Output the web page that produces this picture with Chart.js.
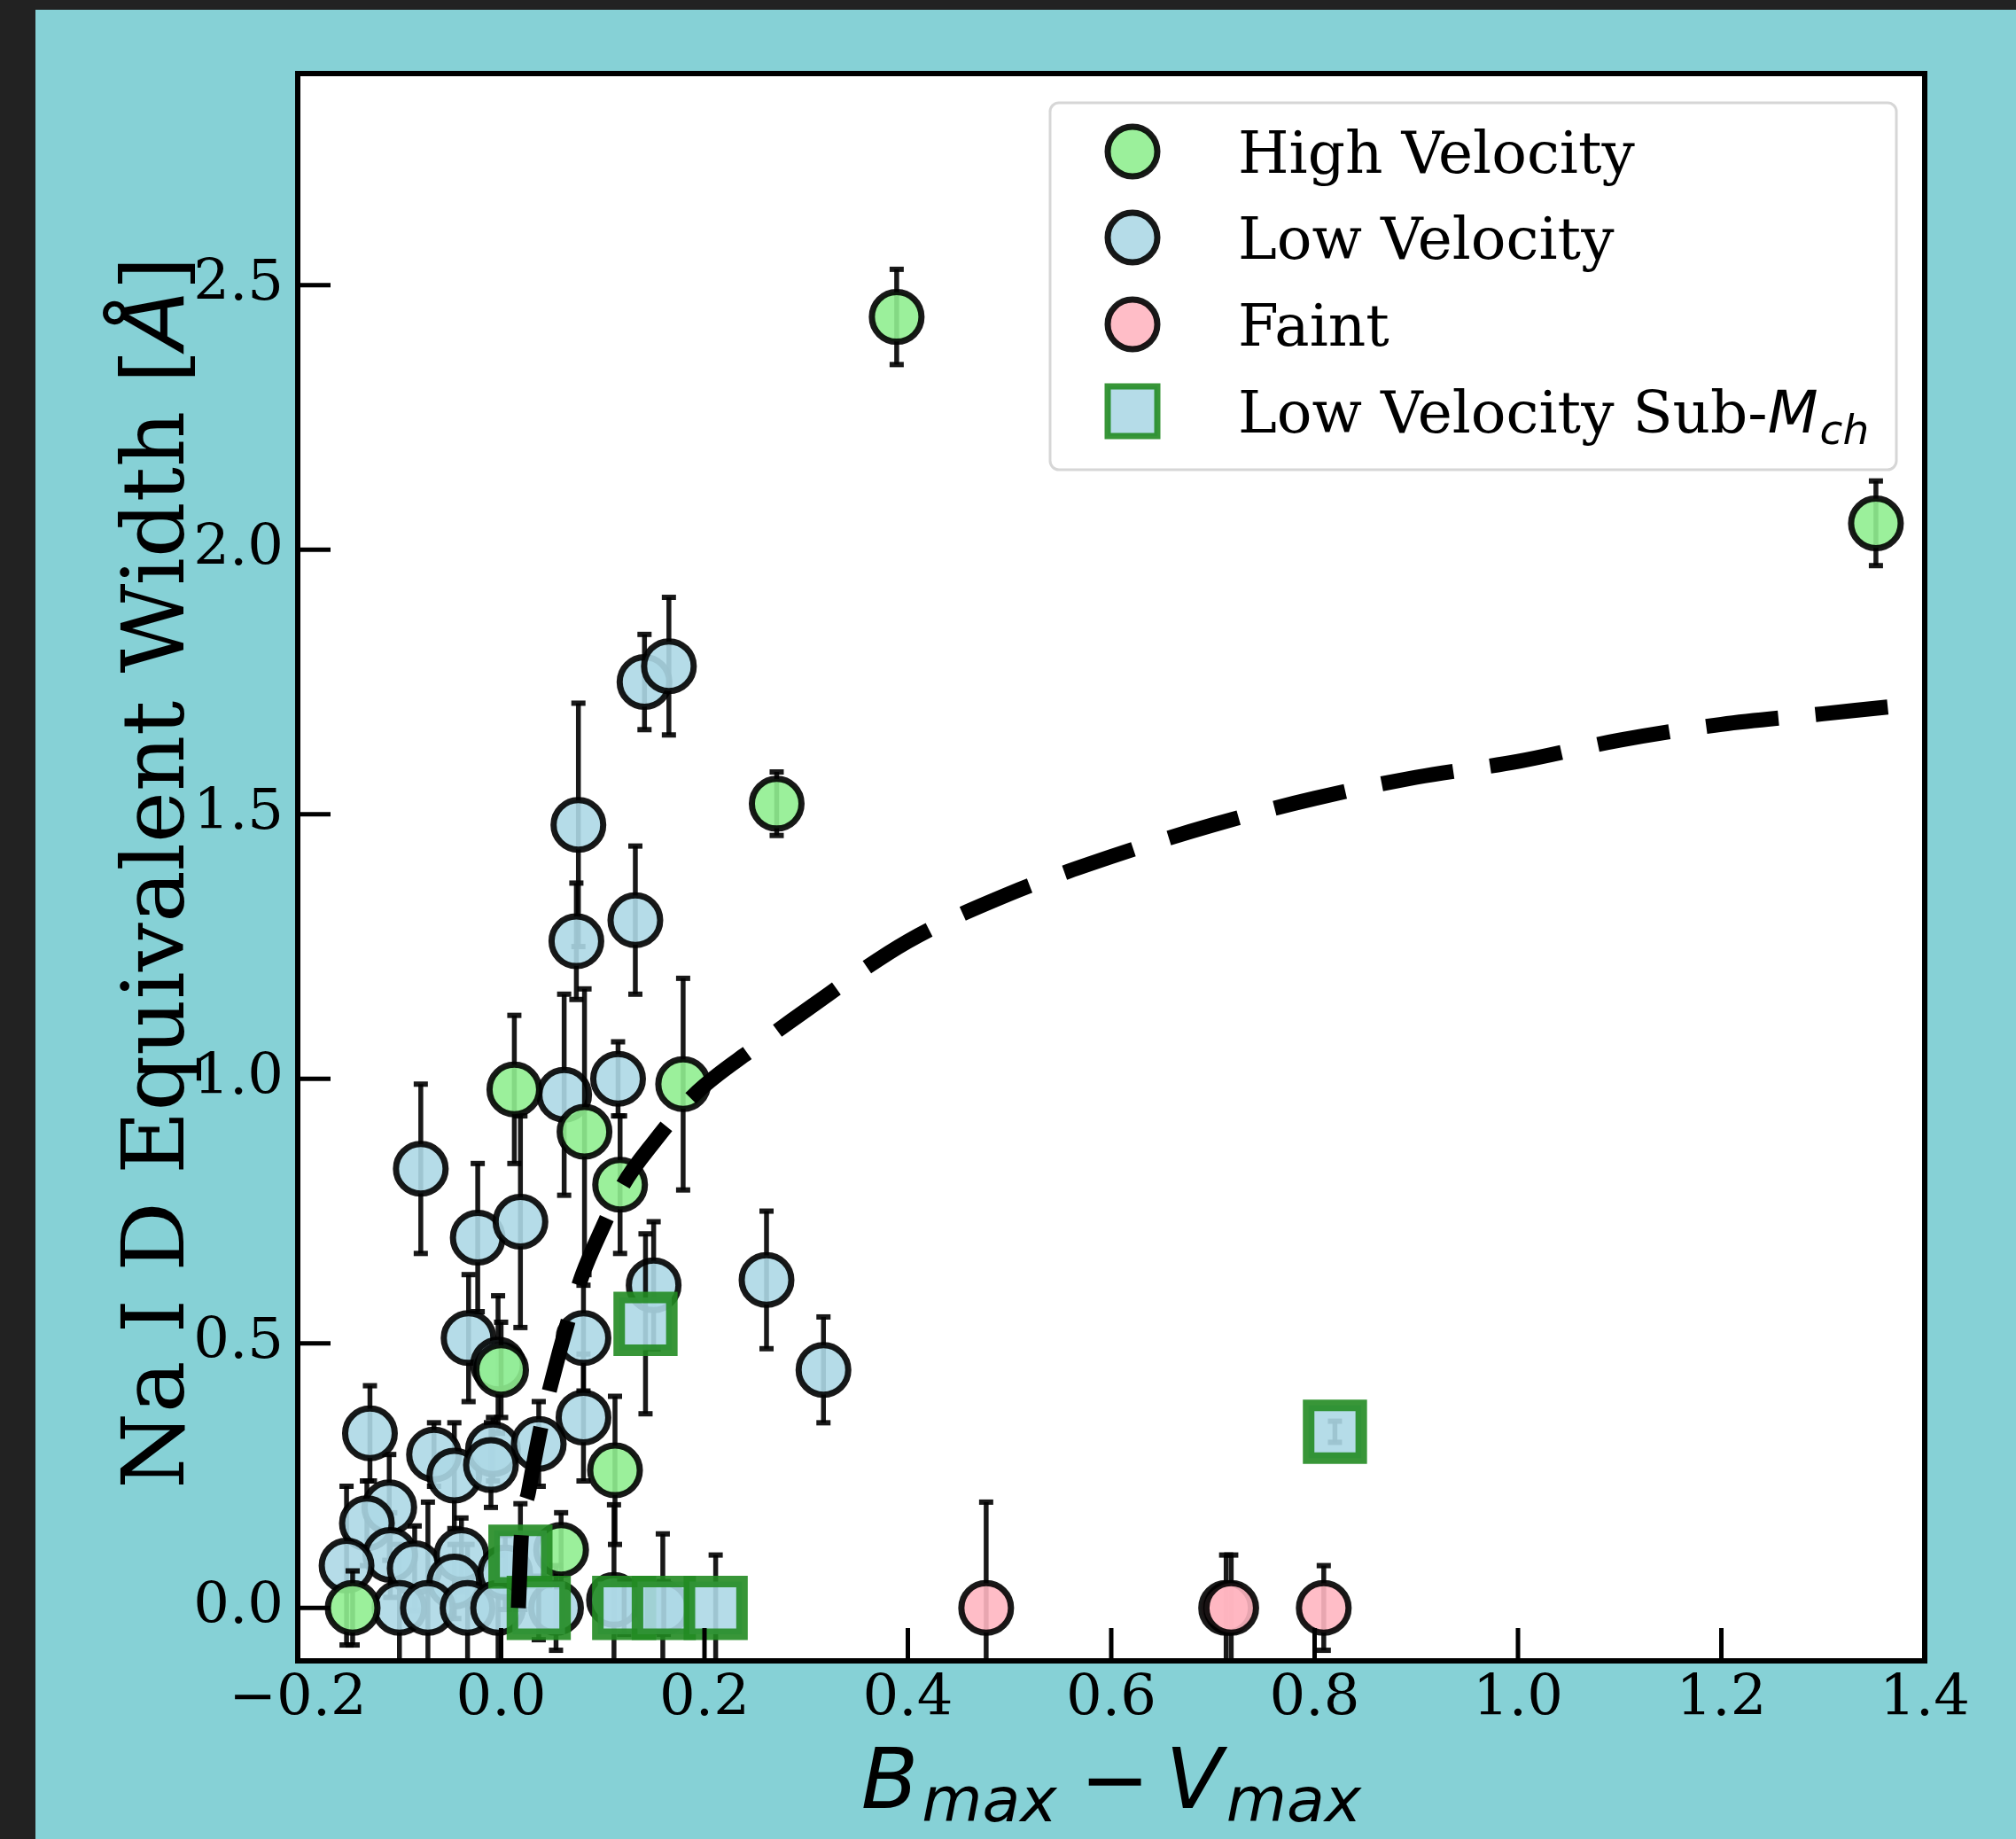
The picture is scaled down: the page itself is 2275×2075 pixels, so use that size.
<!DOCTYPE html>
<html>
<head>
<meta charset="utf-8">
<script src="https://cdn.jsdelivr.net/npm/chart.js@4.4.1/dist/chart.umd.min.js"></script>
<style>
  html, body { margin: 0; padding: 0; background: #222222; }
  #fig { position: absolute; left: 40px; top: 11px; width: 2235px; height: 2064px; background: #86d1d6; }
</style>
</head>
<body>
<div id="fig"><canvas id="chart"></canvas></div>
<script>
// High velocity (green)
const hvX = [0.389, 1.352, 0.271, 0.013, 0.179, 0.082, 0.117, 0.000, 0.112, 0.059, -0.146];
const hvY = [2.44, 2.05, 1.52, 0.98, 0.99, 0.90, 0.80, 0.45, 0.26, 0.11, 0.00];
const hvErr = [0.09, 0.08, 0.06, 0.14, 0.20, 0.27, 0.13, 0.09, 0.14, 0.07, 0.07];

// Low velocity (blue)
const lvX = [0.141, 0.165, 0.076, 0.074, 0.132, 0.115, 0.062, -0.079, -0.023, 0.019,
             0.150, 0.261, 0.317, 0.081, -0.032, 0.081, -0.129, -0.066, -0.046, -0.008,
             -0.010, 0.037, -0.110, -0.132, -0.109, -0.152, -0.085, -0.039, -0.046, 0.004,
             -0.100, -0.072, -0.033, -0.003, 0.054, 0.111, 0.159, -0.003];
const lvY = [1.75, 1.78, 1.48, 1.26, 1.30, 1.00, 0.97, 0.83, 0.70, 0.73,
             0.61, 0.62, 0.45, 0.51, 0.51, 0.36, 0.33, 0.29, 0.25, 0.30,
             0.27, 0.31, 0.19, 0.16, 0.10, 0.08, 0.075, 0.10, 0.05, 0.067,
             0.0, 0.0, 0.0, 0.0, 0.0, 0.015, 0.0, 0.46];
const lvErr = [0.09, 0.13, 0.23, 0.11, 0.14, 0.07, 0.19, 0.16, 0.14, 0.20,
               0.12, 0.13, 0.10, 0.10, 0.12, 0.12, 0.09, 0.06, 0.10, 0.06,
               0.08, 0.08, 0.10, 0.08, 0.08, 0.15, 0.08, 0.07, 0.07, 0.07,
               0.12, 0.20, 0.12, 0.10, 0.08, 0.18, 0.14, 0.13];

// Faint (pink)
const fX = [0.477, 0.713, 0.718, 0.809];
const fY = [0.0, 0.0, 0.0, 0.0];
const fErr = [0.20, 0.10, 0.10, 0.08];

// Low velocity sub-Mch (squares)
const sX = [0.019, 0.037, 0.121, 0.160, 0.211, 0.142, 0.820];
const sY = [0.097, 0.0, 0.0, 0.0, 0.0, 0.537, 0.333];
const sErr = [0.10, 0.06, 0.05, 0.05, 0.10, 0.17, 0.02];

// dashed curve
const fitX = [0.017, 0.020, 0.027, 0.040, 0.050, 0.067, 0.080, 0.100, 0.120, 0.150, 0.190, 0.250,
              0.300, 0.400, 0.500, 0.600, 0.700, 0.800, 0.900, 1.000, 1.100, 1.200, 1.300, 1.400];
const fitY = [0.00, 0.14, 0.22, 0.35, 0.43, 0.55, 0.63, 0.72, 0.80, 0.88, 0.97, 1.06,
              1.13, 1.26, 1.35, 1.42, 1.48, 1.53, 1.57, 1.60, 1.64, 1.67, 1.69, 1.71];

const xTicks = [-0.2, 0.0, 0.2, 0.4, 0.6, 0.8, 1.0, 1.2, 1.4];
const yTicks = [0.0, 0.5, 1.0, 1.5, 2.0, 2.5];

const legendLabels = ['High Velocity', 'Low Velocity', 'Faint', 'Low Velocity Sub-'];

const pts = (xs, ys) => xs.map((x, i) => ({ x: x, y: ys[i] }));
const fmt = v => v.toFixed(1).replace('-', '\u2212');

const SERIF = '"DejaVu Serif", serif';
const SANS = '"DejaVu Sans", sans-serif';
const EDGE = 'rgba(0,0,0,0.9)';

// error bars, drawn under each dataset's markers
const errorBars = {
  id: 'errorBars',
  beforeDatasetDraw(chart, args) {
    const ds = chart.data.datasets[args.index];
    if (!ds.errors) return;
    const ctx = chart.ctx, a = chart.chartArea, ys = chart.scales.y;
    ctx.save();
    ctx.beginPath();
    ctx.rect(a.left, a.top, a.right - a.left, a.bottom - a.top);
    ctx.clip();
    ctx.strokeStyle = EDGE;
    ctx.lineCap = 'butt';
    args.meta.data.forEach((p, i) => {
      const v = ds.data[i].y, e = ds.errors[i];
      const top = ys.getPixelForValue(v + e), bot = ys.getPixelForValue(v - e);
      ctx.lineWidth = 5.5;
      ctx.beginPath(); ctx.moveTo(p.x, top); ctx.lineTo(p.x, bot); ctx.stroke();
      ctx.lineWidth = 6;
      [top, bot].forEach(yy => {
        ctx.beginPath(); ctx.moveTo(p.x - 8, yy); ctx.lineTo(p.x + 8, yy); ctx.stroke();
      });
    });
    ctx.restore();
  }
};

const whiteArea = {
  id: 'whiteArea',
  beforeDraw(chart) {
    const a = chart.chartArea, ctx = chart.ctx;
    ctx.save();
    ctx.fillStyle = '#ffffff';
    ctx.fillRect(a.left, a.top, a.right - a.left, a.bottom - a.top);
    ctx.restore();
  }
};

// frame, inward ticks, axis titles, legend
const decorations = {
  id: 'decorations',
  afterDraw(chart) {
    const ctx = chart.ctx, a = chart.chartArea;
    const xs = chart.scales.x, ys = chart.scales.y;
    ctx.save();
    ctx.strokeStyle = '#000';
    ctx.lineWidth = 5;
    xTicks.forEach(t => {
      const px = xs.getPixelForValue(t);
      ctx.beginPath(); ctx.moveTo(px, a.bottom); ctx.lineTo(px, a.bottom - 37); ctx.stroke();
    });
    yTicks.forEach(t => {
      const py = ys.getPixelForValue(t);
      ctx.beginPath(); ctx.moveTo(a.left, py); ctx.lineTo(a.left + 37, py); ctx.stroke();
    });
    ctx.lineWidth = 6;
    ctx.strokeRect(a.left, a.top, a.right - a.left, a.bottom - a.top);

    // y title
    ctx.fillStyle = '#000';
    ctx.save();
    ctx.translate(167, (a.top + a.bottom) / 2 + 6);
    ctx.rotate(-Math.PI / 2);
    ctx.textBaseline = 'alphabetic';
    ctx.textAlign = 'left';
    const yParts = [
      { t: 'Na I D Equivalent Width [', f: '98px ' + SERIF },
      { t: '\u212B', f: 'oblique 98px ' + SANS },
      { t: ']', f: '98px ' + SERIF }
    ];
    let tw = 0;
    yParts.forEach(p => { ctx.font = p.f; p.w = ctx.measureText(p.t).width; tw += p.w; });
    let cx = -tw / 2;
    yParts.forEach(p => { ctx.font = p.f; ctx.fillText(p.t, cx, 0); cx += p.w; });
    ctx.restore();

    // x title: B_max - V_max
    const base = 94, sub = 70, subDy = 15;
    const xParts = [
      { t: 'B', f: 'oblique ' + base + 'px ' + SANS, dy: 0, gap: 4 },
      { t: 'max', f: 'oblique ' + sub + 'px ' + SANS, dy: subDy, gap: 26 },
      { t: '\u2212', f: base + 'px ' + SANS, dy: 0, gap: 18 },
      { t: 'V', f: 'oblique ' + base + 'px ' + SANS, dy: 0, gap: 4 },
      { t: 'max', f: 'oblique ' + sub + 'px ' + SANS, dy: subDy, gap: 0 }
    ];
    tw = 0;
    xParts.forEach(p => { ctx.font = p.f; p.w = ctx.measureText(p.t).width; tw += p.w + p.gap; });
    cx = (a.left + a.right) / 2 - tw / 2;
    const xBase = 2029;
    xParts.forEach(p => { ctx.font = p.f; ctx.fillText(p.t, cx, xBase + p.dy); cx += p.w + p.gap; });

    // legend
    const L = { left: a.right - 987, top: a.top + 33, w: 955, h: 414 };
    ctx.beginPath();
    ctx.roundRect(L.left, L.top, L.w, L.h, 10);
    ctx.fillStyle = 'rgba(255,255,255,0.8)';
    ctx.fill();
    ctx.lineWidth = 3;
    ctx.strokeStyle = 'rgba(204,204,204,0.8)';
    ctx.stroke();
    const rowY = [L.top + 55, L.top + 152, L.top + 250, L.top + 348];
    const mx = L.left + 93, tx = L.left + 212;
    const fills = ['rgba(144,238,144,0.9)', 'rgba(173,216,230,0.9)', 'rgba(255,182,193,0.9)'];
    fills.forEach((c, i) => {
      ctx.beginPath();
      ctx.arc(mx, rowY[i], 28, 0, Math.PI * 2);
      ctx.fillStyle = c; ctx.fill();
      ctx.lineWidth = 7; ctx.strokeStyle = EDGE; ctx.stroke();
    });
    ctx.beginPath();
    ctx.rect(mx - 28, rowY[3] - 28, 56, 56);
    ctx.fillStyle = 'rgba(173,216,230,0.9)'; ctx.fill();
    ctx.lineWidth = 7; ctx.strokeStyle = 'rgba(34,139,34,0.9)'; ctx.stroke();

    ctx.fillStyle = '#000';
    ctx.textBaseline = 'alphabetic';
    ctx.font = '66px ' + SERIF;
    legendLabels.forEach((t, i) => ctx.fillText(t, tx, rowY[i] + 24));
    let sx = tx + ctx.measureText(legendLabels[3]).width;
    ctx.font = 'oblique 66px ' + SANS;
    ctx.fillText('M', sx, rowY[3] + 24);
    sx += ctx.measureText('M').width + 2;
    ctx.font = 'oblique 47px ' + SANS;
    ctx.fillText('ch', sx, rowY[3] + 37);
    ctx.restore();
  }
};

const pointSet = (label, xs, ys, errs, fill, edge, style, r, bw, order) => ({
  label: label,
  data: pts(xs, ys),
  errors: errs,
  pointStyle: style,
  pointRadius: r,
  pointHoverRadius: r,
  pointBackgroundColor: fill,
  pointBorderColor: edge,
  pointBorderWidth: bw,
  pointHoverBorderWidth: bw,
  showLine: false,
  order: order
});

new Chart(document.getElementById('chart'), {
  type: 'scatter',
  data: {
    datasets: [
      {
        label: 'fit',
        data: pts(fitX, fitY),
        showLine: true,
        pointRadius: 0,
        borderColor: '#000',
        borderWidth: 17,
        borderDash: [82, 42],
        borderCapStyle: 'butt',
        cubicInterpolationMode: 'monotone',
        fill: false,
        order: 0
      },
      pointSet(legendLabels[0], hvX, hvY, hvErr, 'rgba(144,238,144,0.9)', EDGE, 'circle', 28, 7, 3),
      pointSet(legendLabels[1], lvX, lvY, lvErr, 'rgba(173,216,230,0.9)', EDGE, 'circle', 28, 7, 4),
      pointSet('Faint', fX, fY, fErr, 'rgba(255,182,193,0.9)', EDGE, 'circle', 28, 7, 2),
      pointSet('Low Velocity Sub-Mch', sX, sY, sErr, 'rgba(173,216,230,0.9)', 'rgba(34,139,34,0.9)', 'rect', 42, 13, 1)
    ]
  },
  options: {
    responsive: true,
    maintainAspectRatio: false,
    animation: false,
    devicePixelRatio: 1,
    events: [],
    layout: { padding: { top: 72, right: 103, left: 0, bottom: 0 } },
    plugins: { legend: { display: false }, tooltip: { enabled: false } },
    scales: {
      x: {
        type: 'linear',
        min: -0.2, max: 1.4,
        grid: { display: false, drawTicks: false },
        border: { display: false },
        afterBuildTicks: s => { s.ticks = xTicks.map(v => ({ value: v })); },
        afterFit: s => { s.height = 201; },
        ticks: {
          callback: v => fmt(v),
          font: { family: 'DejaVu Serif', size: 64 },
          color: '#000',
          padding: 6,
          maxRotation: 0,
          autoSkip: false
        }
      },
      y: {
        type: 'linear',
        min: -0.1, max: 2.9,
        grid: { display: false, drawTicks: false },
        border: { display: false },
        afterBuildTicks: s => { s.ticks = yTicks.map(v => ({ value: v })); },
        afterFit: s => { s.width = 296; },
        ticks: {
          callback: v => fmt(v),
          font: { family: 'DejaVu Serif', size: 64 },
          color: '#000',
          padding: 16,
          autoSkip: false
        }
      }
    }
  },
  plugins: [whiteArea, errorBars, decorations]
});
</script>
</body>
</html>
